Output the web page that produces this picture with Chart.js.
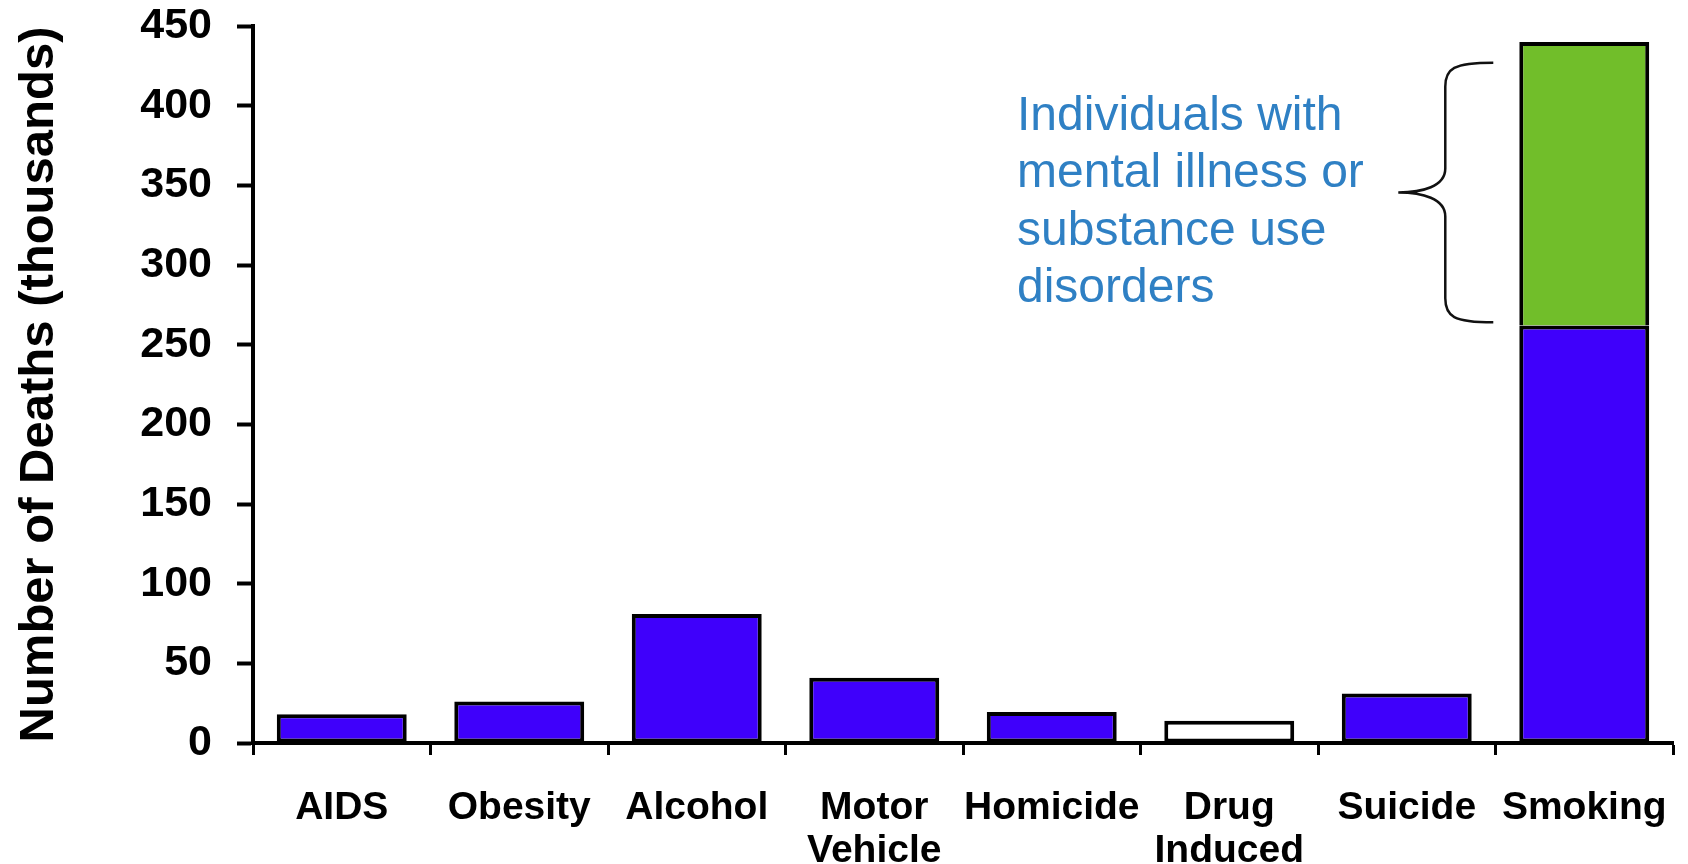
<!DOCTYPE html>
<html>
<head>
<meta charset="utf-8">
<script src="https://cdn.jsdelivr.net/npm/chart.js@4.4.1/dist/chart.umd.min.js"></script>
<style>
  html, body { margin: 0; padding: 0; background: #fff; }
  #wrap { width: 1688px; height: 864px; }
</style>
</head>
<body>
<div id="wrap"><canvas id="chart" width="1688" height="864"></canvas></div>
<script>
// categories and values (thousands of deaths)
const categories = ["AIDS", "Obesity", "Alcohol", ["Motor", "Vehicle"], "Homicide", ["Drug", "Induced"], "Suicide", "Smoking"];
const baseDeaths = [18, 26, 81, 41, 19.5, 14, 31, 262];
const mentalIllnessDeaths = [null, null, null, null, null, null, null, 178];
const yTicks = [0, 50, 100, 150, 200, 250, 300, 350, 400, 450];

const noteLines = ["Individuals with", "mental illness or", "substance use", "disorders"];
const braceRange = [264, 427]; // span on the y axis that the brace covers

const BLUE = "#3f00fb";
const GREEN = "#71be2a";
const FONT = "'Liberation Sans', Arial, Helvetica, sans-serif";

// brace + blue note next to the smoking bar
const bracePlugin = {
  id: "brace",
  afterDraw(chart) {
    const { ctx, scales } = chart;
    const bar = chart.getDatasetMeta(1).data[7];
    const y = scales.y;
    const T = y.getPixelForValue(braceRange[1]);
    const B = y.getPixelForValue(braceRange[0]);
    const M = (T + B) / 2;
    const xe = bar.x - bar.width / 2 - 26;
    const xs = xe - 48;
    const xt = xs - 47;

    ctx.save();
    ctx.strokeStyle = "#111";
    ctx.lineWidth = 2.5;
    ctx.beginPath();
    ctx.moveTo(xe, T);
    ctx.bezierCurveTo(xs + 8, T, xs, T + 6, xs, T + 24);
    ctx.lineTo(xs, M - 24);
    ctx.bezierCurveTo(xs, M - 6, xt + 24, M, xt, M);
    ctx.bezierCurveTo(xt + 24, M, xs, M + 6, xs, M + 24);
    ctx.lineTo(xs, B - 24);
    ctx.bezierCurveTo(xs, B - 6, xs + 8, B, xe, B);
    ctx.stroke();

    ctx.fillStyle = "#2f80c4";
    ctx.font = "48px " + FONT;
    ctx.textAlign = "left";
    ctx.textBaseline = "alphabetic";
    noteLines.forEach((line, i) => {
      ctx.fillText(line, 1017, 130 + i * 57.3);
    });
    ctx.restore();
  }
};

const whiteBg = {
  id: "whiteBg",
  beforeDraw(chart) {
    const { ctx } = chart;
    ctx.save();
    ctx.fillStyle = "#fff";
    ctx.fillRect(0, 0, chart.width, chart.height);
    ctx.restore();
  }
};

new Chart(document.getElementById("chart").getContext("2d"), {
  type: "bar",
  data: {
    labels: categories,
    datasets: [
      {
        data: baseDeaths,
        backgroundColor: categories.map((_, i) => (i === 5 ? "#ffffff" : BLUE)),
        borderColor: "#000",
        borderWidth: 4,
        borderSkipped: false,
        barPercentage: 0.732,
        categoryPercentage: 1
      },
      {
        data: mentalIllnessDeaths,
        backgroundColor: GREEN,
        borderColor: "#000",
        borderWidth: 4,
        borderSkipped: "bottom",
        barPercentage: 0.732,
        categoryPercentage: 1
      }
    ]
  },
  options: {
    responsive: false,
    animation: false,
    layout: { padding: { top: 26, right: 15, bottom: 0, left: 0 } },
    plugins: {
      legend: { display: false },
      tooltip: { enabled: false }
    },
    scales: {
      x: {
        stacked: true,
        afterFit: (s) => { s.height = 121; s.paddingLeft = 0; s.paddingRight = 0; },
        border: { color: "#000", width: 4 },
        grid: {
          offset: true,
          drawOnChartArea: false,
          drawTicks: true,
          tickLength: 12,
          tickWidth: 3,
          tickColor: "#000"
        },
        ticks: {
          color: "#000",
          padding: 32,
          maxRotation: 0,
          autoSkip: false,
          font: { family: FONT, size: 39, weight: "bold", lineHeight: 1.1 }
        }
      },
      y: {
        stacked: true,
        min: 0,
        max: 450,
        afterFit: (s) => { s.width = 253; s.paddingTop = 0; s.paddingBottom = 0; },
        afterBuildTicks: (s) => { s.ticks = yTicks.map(v => ({ value: v })); },
        border: { color: "#000", width: 4 },
        grid: {
          drawOnChartArea: false,
          drawTicks: true,
          tickLength: 16,
          tickWidth: 4,
          tickColor: "#000"
        },
        ticks: {
          color: "#000",
          padding: 25,
          font: { family: FONT, size: 43, weight: "bold" }
        },
        title: {
          display: true,
          text: "Number of Deaths (thousands)",
          color: "#000",
          padding: { top: 10, bottom: 0 },
          font: { family: FONT, size: 49, weight: "bold" }
        }
      }
    }
  },
  plugins: [whiteBg, bracePlugin]
});
</script>
</body>
</html>
